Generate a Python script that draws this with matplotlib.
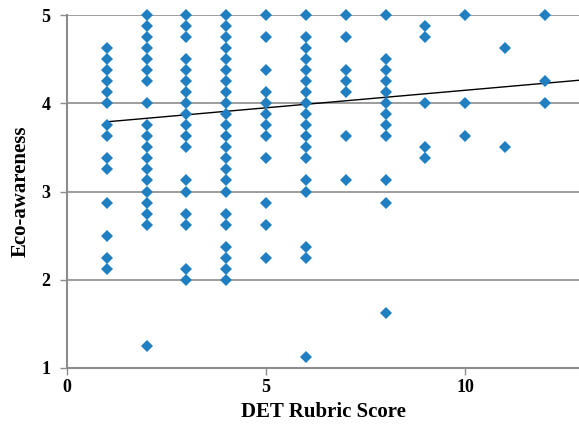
import numpy as np
import matplotlib.pyplot as plt

# eco-awareness scores per DET rubric score
col_1 = [4.625, 4.5, 4.375, 4.25, 4.125, 4.0, 3.75, 3.625, 3.375, 3.25, 2.875, 2.5, 2.25, 2.125]
col_2 = [5.0, 4.875, 4.75, 4.625, 4.5, 4.375, 4.25, 4.0, 3.75, 3.625, 3.5, 3.375, 3.25,
         3.125, 3.0, 2.875, 2.75, 2.625, 1.25]
col_3 = [5.0, 4.875, 4.75, 4.5, 4.375, 4.25, 4.125, 4.0, 3.875, 3.75, 3.625, 3.5, 3.125,
         3.0, 2.75, 2.625, 2.125, 2.0]
col_4 = [5.0, 4.875, 4.75, 4.625, 4.5, 4.375, 4.25, 4.125, 4.0, 3.875, 3.75, 3.625, 3.5,
         3.375, 3.25, 3.125, 3.0, 2.75, 2.625, 2.375, 2.25, 2.125, 2.0]
col_5 = [5.0, 4.75, 4.375, 4.125, 4.0, 3.875, 3.75, 3.625, 3.375, 2.875, 2.625, 2.25]
col_6 = [5.0, 4.75, 4.625, 4.5, 4.375, 4.25, 4.125, 4.0, 3.875, 3.75, 3.625, 3.5, 3.375,
         3.125, 3.0, 2.375, 2.25, 1.125]
col_7 = [5.0, 4.75, 4.375, 4.25, 4.125, 3.625, 3.125]
col_8 = [5.0, 4.5, 4.375, 4.25, 4.125, 4.0, 3.875, 3.75, 3.625, 3.125, 2.875, 1.625]
col_9 = [4.875, 4.75, 4.0, 3.5, 3.375]
col_10 = [5.0, 4.0, 3.625]
col_11 = [4.625, 3.5]
col_12 = [5.0, 4.25, 4.0]

columns = [col_1, col_2, col_3, col_4, col_5, col_6, col_7, col_8, col_9, col_10, col_11, col_12]
scores = list(range(1, 13))

# trend line as drawn in the chart
trend_slope = 0.0397
trend_intercept = 3.75

x = np.concatenate([[s] * len(c) for s, c in zip(scores, columns)])
y = np.concatenate(columns)

plt.rcParams['font.family'] = ['Liberation Serif', 'DejaVu Serif']

fig = plt.figure(figsize=(5.79, 4.29), dpi=100)
ax = fig.add_axes([67 / 579, 61 / 429, 1 - 67 / 579, 353 / 429])

x_max = 12.86
ax.set_xlim(0, x_max)
ax.set_ylim(1, 5)

for yv in [2, 3, 4, 5]:
    ax.axhline(yv, color='#8c8c8c', lw=1.2, zorder=1)

xt = np.array([1, x_max])
ax.plot(xt, trend_intercept + trend_slope * xt, color='black', lw=1, zorder=2)
ax.plot(x, y, 'D', color='#1f7fc1', markersize=6.5, markeredgewidth=0, zorder=3, clip_on=False)

for s in ['top', 'right']:
    ax.spines[s].set_visible(False)
for s in ['left', 'bottom']:
    ax.spines[s].set_color('#8c8c8c')
    ax.spines[s].set_linewidth(1.5)

ax.set_xticks([0, 5, 10])
ax.set_yticks([1, 2, 3, 4, 5])
ax.tick_params(axis='both', colors='#8c8c8c', length=5, width=1, labelcolor='black',
               labelsize=13)
ax.tick_params(axis='x', pad=3)
ax.tick_params(axis='y', pad=7)
for lab in ax.get_xticklabels() + ax.get_yticklabels():
    lab.set_fontweight('bold')

ax.set_xlabel('DET Rubric Score', fontsize=15, fontweight='bold', labelpad=4)
ax.set_ylabel('Eco-awareness', fontsize=15, fontweight='bold', labelpad=8)

fig.savefig('out.png', dpi=100)
